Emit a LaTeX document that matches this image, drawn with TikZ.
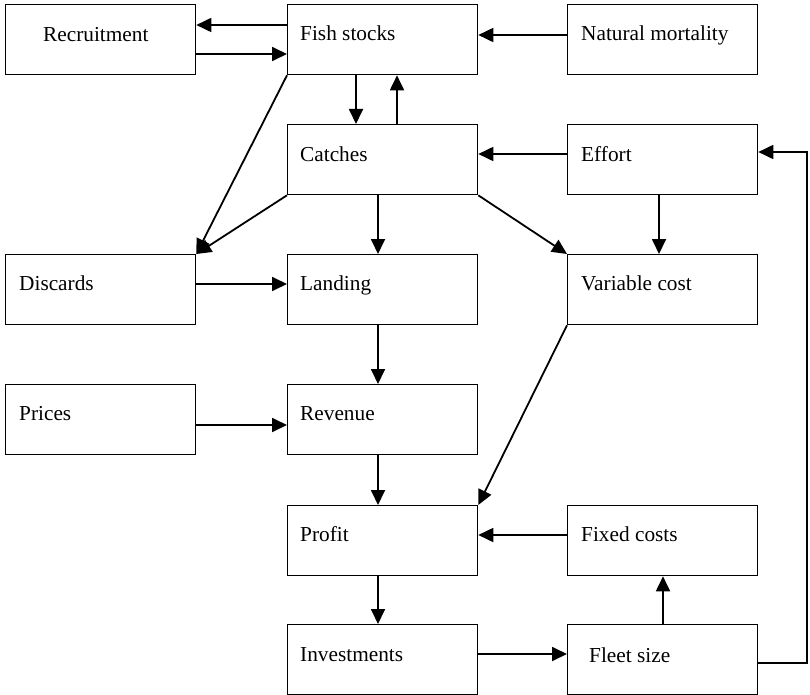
\documentclass[tikz,border=0pt]{standalone}
\usepackage{fontspec}
\setmainfont{Liberation Serif}
\usetikzlibrary{arrows.meta,calc}
\begin{document}
\begin{tikzpicture}[x=1pt,y=-1pt,
  box/.style={draw, line width=1.3pt, minimum width=190pt, minimum height=70pt, anchor=north west, inner sep=0pt},
  txt/.style={anchor=base west, inner sep=0pt, font=\fontsize{21.3}{26}\selectfont},
  arr/.style={line width=1.8pt, -{Triangle[length=15pt,width=14pt]}}]
\useasboundingbox (0,0) rectangle (810,695);
% boxes
\node[box] (rec) at (5,4) {};
\node[box] (fish) at (287,4) {};
\node[box] (nat) at (567,4) {};
\node[box] (catch) at (287,124) {};
\node[box] (eff) at (567,124) {};
\node[box] (disc) at (5,254) {};
\node[box] (land) at (287,254) {};
\node[box] (var) at (567,254) {};
\node[box] (price) at (5,384) {};
\node[box] (rev) at (287,384) {};
\node[box] (profit) at (287,505) {};
\node[box] (fixed) at (567,505) {};
\node[box] (inv) at (287,624) {};
\node[box] (fleet) at (567,624) {};
% texts
\node[txt] (trec) at ($(rec.north west)+(38,38)$) {Recruitment};
\node[txt] (tfish) at ($(fish.north west)+(13,37)$) {Fish stocks};
\node[txt] (tnat) at ($(nat.north west)+(14,37)$) {Natural mortality};
\node[txt] (tcatch) at ($(catch.north west)+(13,37)$) {Catches};
\node[txt] (teff) at ($(eff.north west)+(14,37)$) {Effort};
\node[txt] (tdisc) at ($(disc.north west)+(14,36)$) {Discards};
\node[txt] (tland) at ($(land.north west)+(13,36)$) {Landing};
\node[txt] (tvar) at ($(var.north west)+(14,36)$) {Variable cost};
\node[txt] (tprice) at ($(price.north west)+(14,36)$) {Prices};
\node[txt] (trev) at ($(rev.north west)+(13,36)$) {Revenue};
\node[txt] (tprofit) at ($(profit.north west)+(13,36)$) {Profit};
\node[txt] (tfixed) at ($(fixed.north west)+(14,36)$) {Fixed costs};
\node[txt] (tinv) at ($(inv.north west)+(13,37)$) {Investments};
\node[txt] (tfleet) at ($(fleet.north west)+(22,38)$) {Fleet size};
% connectors
\draw[arr] ($(fish.north west)+(0,21)$) -- ($(rec.north east)+(0,21)$);
\draw[arr] ($(rec.north east)+(0,50)$) -- ($(fish.north west)+(0,50)$);
\draw[arr] ($(nat.north west)+(0,31)$) -- ($(fish.north east)+(0,31)$);
\draw[arr] ($(fish.south west)+(69,0)$) -- ($(catch.north west)+(69,0)$);
\draw[arr] ($(catch.north west)+(110,0)$) -- ($(fish.south west)+(110,0)$);
\draw[arr] ($(eff.north west)+(0,30)$) -- ($(catch.north east)+(0,30)$);
\draw[arr] (fish.south west) -- (disc.north east);
\draw[arr] (catch.south west) -- (disc.north east);
\draw[arr] ($(catch.south west)+(91,0)$) -- ($(land.north west)+(91,0)$);
\draw[arr] (catch.south east) -- (var.north west);
\draw[arr] ($(eff.south west)+(92,0)$) -- ($(var.north west)+(92,0)$);
\draw[arr] ($(disc.north east)+(0,30)$) -- ($(land.north west)+(0,30)$);
\draw[arr] ($(land.south west)+(91,0)$) -- ($(rev.north west)+(91,0)$);
\draw[arr] ($(price.north east)+(0,41)$) -- ($(rev.north west)+(0,41)$);
\draw[arr] ($(rev.south west)+(91,0)$) -- ($(profit.north west)+(91,0)$);
\draw[arr] (var.south west) -- (profit.north east);
\draw[arr] ($(fixed.north west)+(0,30)$) -- ($(profit.north east)+(0,30)$);
\draw[arr] ($(profit.south west)+(91,0)$) -- ($(inv.north west)+(91,0)$);
\draw[arr] ($(inv.north east)+(0,30)$) -- ($(fleet.north west)+(0,30)$);
\draw[arr] ($(fleet.north west)+(96,0)$) -- ($(fixed.south west)+(96,0)$);
\draw[arr] ($(fleet.north east)+(0,39)$) -- ++(49,0) |- ($(eff.north east)+(0,28)$);
\end{tikzpicture}
\end{document}
